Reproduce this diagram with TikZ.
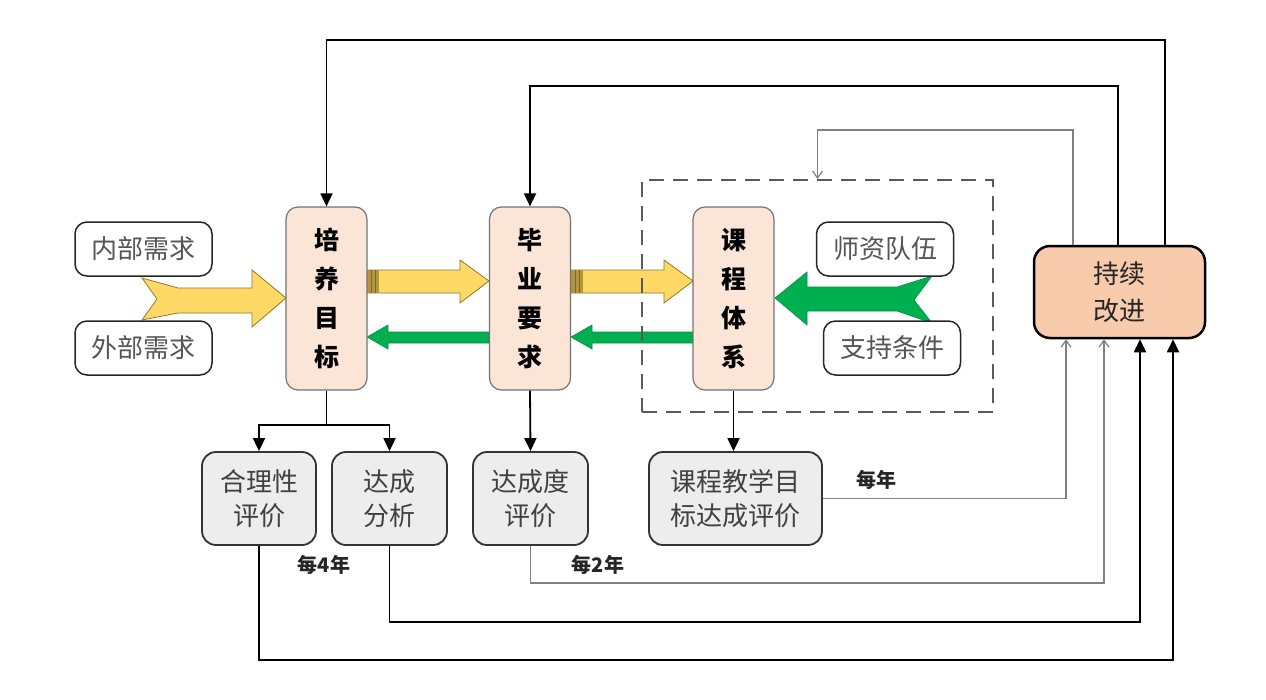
\documentclass[tikz,border=0pt]{standalone}
\usepackage{fontspec}
\setmainfont{Liberation Sans}
\newfontfamily\cjk{Noto Sans CJK SC}
\usetikzlibrary{arrows.meta,calc}
\definecolor{peach}{HTML}{FBE5D6}
\definecolor{peachd}{HTML}{F8CBAD}
\definecolor{boxgray}{HTML}{EDEDED}
\definecolor{ylw}{HTML}{FFD966}
\definecolor{ylwd}{HTML}{B8962E}
\definecolor{grn}{HTML}{00B050}
\definecolor{txtgray}{HTML}{555555}
\begin{document}
\begin{tikzpicture}[x=1pt,y=-1pt,
 inbox/.style={draw=black!85, line width=1.5pt, rounded corners=12pt, fill=white, minimum width=137pt, minimum height=54pt, font=\cjk\fontsize{26}{28}\selectfont, text=txtgray, inner sep=0pt},
 mainbox/.style={draw=black!55, line width=1.2pt, rounded corners=12pt, fill=peach, minimum width=81pt, minimum height=183pt, align=center, font=\cjk\bfseries\fontsize{25}{39}\selectfont, inner sep=0pt},
 evalbox/.style={draw=black!80, line width=1.8pt, rounded corners=14pt, fill=boxgray, minimum width=115pt, minimum height=93pt, align=center, font=\cjk\fontsize{26}{34}\selectfont, text=black!75, inner sep=0pt},
 cibox/.style={draw=black, line width=2.5pt, rounded corners=16pt, fill=peachd, minimum width=171pt, minimum height=92pt, align=center, font=\cjk\fontsize{26}{37}\selectfont, text=black!85, inner sep=0pt},
 dbox/.style={draw=black!65, line width=2pt, dash pattern=on 15pt off 9pt, minimum width=351pt, minimum height=232pt},
 blk/.style={draw=black, line width=1.8pt, -{Triangle[length=13pt,width=12pt]}},
 gry/.style={draw=black!50, line width=1.2pt, -{Straight Barb[length=7pt,width=10pt]}},
 plain/.style={draw=black, line width=1.8pt},
 lbl/.style={font=\cjk\bfseries\fontsize{20}{20}\selectfont, text=black!85},
 yarrow/.style={fill=ylw, draw=ylwd!80!black, line width=0.8pt, line join=miter},
 garrow/.style={fill=grn, draw=grn!80!black, line width=0.6pt, line join=miter}
]
\useasboundingbox (0,0) rectangle (1266,699);

% fat arrows (drawn first, under the boxes)
\draw[yarrow] (142,278) -- (178,288) -- (252,288) -- (252,270) -- (286,298) -- (252,327) -- (252,313) -- (178,313) -- (142,320) -- (157,299) -- cycle;
\draw[yarrow] (367,270) -- (460,270) -- (460,260) -- (489,281) -- (460,303) -- (460,293) -- (367,293) -- cycle;
\draw[yarrow] (571,270) -- (664,270) -- (664,260) -- (693,281) -- (664,303) -- (664,293) -- (571,293) -- cycle;
\fill[ylwd] (367,270) rectangle (379,293);
\fill[ylwd] (571,270) rectangle (583,293);
\draw[black!60, line width=1pt] (371,270) -- (371,293) (375,270) -- (375,293) (575,270) -- (575,293) (579,270) -- (579,293);
\draw[garrow] (489,332) -- (388,332) -- (388,325) -- (367,337) -- (388,349) -- (388,343) -- (489,343) -- cycle;
\draw[garrow] (693,332) -- (592,332) -- (592,325) -- (571,337) -- (592,349) -- (592,343) -- (693,343) -- cycle;
\draw[garrow] (932,276) -- (897,287) -- (807,287) -- (807,272) -- (775,298) -- (807,325) -- (807,311) -- (897,311) -- (932,323) -- (914,300) -- cycle;

% dashed frame
\node[dbox] (db) at (817.5,296) {};

% nodes
\node[inbox] (nb) at (143.5,249) {内部需求};
\node[inbox] (wb) at (143.5,348) {外部需求};
\node[inbox] (sz) at (885,249) {师资队伍};
\node[inbox] (zc) at (892,348) {支持条件};
\node[mainbox] (pm) at (326.5,298.5) {培\\养\\目\\标};
\node[mainbox] (by) at (530,298.5) {毕\\业\\要\\求};
\node[mainbox] (kc) at (733.5,298.5) {课\\程\\体\\系};
\node[cibox] (ci) at (1119.5,292) {持续\\改进};
\node[evalbox, minimum width=114pt] (e1) at (259,498.5) {合理性\\评价};
\node[evalbox] (e2) at (389.5,498.5) {达成\\分析};
\node[evalbox] (e3) at (530.5,498.5) {达成度\\评价};
\node[evalbox, minimum width=173pt] (e4) at (735.5,498.5) {课程教学目\\标达成评价};

% downward connectors
\coordinate (j1) at (326.5,425);
\draw[plain] (pm.south) -- (j1);
\draw[blk] (j1) -| (e1.north);
\draw[blk] (j1) -| (e2.north);
\draw[blk] (by.south) -- (e3.north);
\draw[blk] (kc.south) -- (kc.south |- e4.north);

% feedback from 持续改进 (top)
\coordinate (t1) at (326.5,40);
\coordinate (t2) at (530,86);
\coordinate (t3) at (817.5,130);
\draw[blk] ([xshift=45.5pt]ci.north) |- (t1) -- (pm.north);
\draw[blk] ([xshift=-1.5pt]ci.north) |- (t2) -- (by.north);
\draw[gry] ([xshift=-46.5pt]ci.north) |- (t3) -- (db.north);

% feedback into 持续改进 (bottom)
\coordinate (b1) at (259,660);
\coordinate (b2) at (389.5,622);
\coordinate (b3) at (530.5,583);
\draw[blk] (e1.south) -- (b1) -| ([xshift=53.5pt]ci.south);
\draw[blk] (e2.south) -- (b2) -| ([xshift=20.5pt]ci.south);
\draw[gry] (e3.south) -- (b3) -| ([xshift=-15.5pt]ci.south);
\draw[gry] (e4.east) -| ([xshift=-53.5pt]ci.south);

% labels
\node[lbl] (l4) at (324,565) {每4年};
\node[lbl] (l2) at (598,565) {每2年};
\node[lbl] (l1) at (876,480) {每年};
\end{tikzpicture}
\end{document}
